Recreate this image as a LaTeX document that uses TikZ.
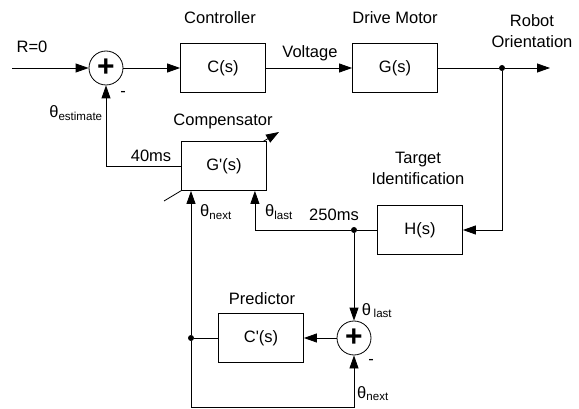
\documentclass[tikz,border=0pt]{standalone}
\usepackage{fontspec}
\setmainfont{Liberation Sans}
\usetikzlibrary{arrows.meta, positioning, backgrounds}

\newcommand{\thsub}[1]{θ\textsubscript{#1}}

\begin{document}
\begin{tikzpicture}[
    x=1pt, y=-1pt,
    font=\fontsize{16.5}{20}\selectfont,
    block/.style={rectangle, draw, fill=white, line width=0.8pt, minimum width=85pt, minimum height=49pt, inner sep=0pt},
    sumnode/.style={circle, draw, fill=white, line width=0.8pt, minimum size=34pt, inner sep=0pt, font=\fontsize{30}{30}\selectfont\bfseries},
    dot/.style={circle, fill, inner sep=0pt, minimum size=6pt},
    label/.style={anchor=base, inner sep=0pt},
    arrow/.style={-{Triangle[length=13pt, width=9pt]}, line width=0.8pt},
    wire/.style={line width=0.8pt}
]
    \useasboundingbox (0,0) rectangle (579,409);

    % forward path
    \coordinate (in) at (12,68);
    \node[sumnode] (sum1) at (106,68) {+};
    \node[block] (ctrl) at (223,68) {C(s)};
    \node[block] (motor) at (395,68) {G(s)};
    \node[dot] (out) at (502,68) {};
    \coordinate (end) at (550,68);

    % feedback blocks
    \node[block] (comp) at (224,166) {G\textquotesingle(s)};
    \node[block] (ident) at (420,230) {H(s)};
    \node[dot] (split) at (354,230) {};
    \node[block] (pred) at (261,338) {C\textquotesingle(s)};
    \node[sumnode] (sum2) at (354,338) {+};
    \node[dot] (tap) at (191,338) {};
    \coordinate (low) at (191,407);

    % labels
    \node[label] (rlabel) at (32,53) {R=0};
    \node[label] (ctrllabel) at (220,24) {Controller};
    \node[label] (voltlabel) at (310,58) {Voltage};
    \node[label] (motorlabel) at (395,24) {Drive Motor};
    \node[label, align=center] (outlabel) at (532,48) {Robot\\[1pt]Orientation};
    \node[label] (minus1) at (123,97) {-};
    \node[label] (estlabel) at (76,118) {\thsub{estimate}};
    \node[label] (complabel) at (223,126) {Compensator};
    \node[label] (delay1) at (151,162) {40ms};
    \node[label, align=center] (identlabel) at (418,185) {Target\\[1pt]Identification};
    \node[label] (delay2) at (334,221) {250ms};
    \node[label] (nextlabel) at (216,217) {\thsub{next}};
    \node[label] (lastlabel) at (279,217) {\thsub{last}};
    \node[label] (predlabel) at (262,304) {Predictor};
    \node[label] (lastlabel2) at (377,315) {θ\,\textsubscript{last}};
    \node[label] (minus2) at (371,364) {-};
    \node[label] (nextlabel2) at (373,398) {\thsub{next}};

    % connectors
    \draw[arrow] (in) -- (sum1);
    \draw[arrow] (sum1) -- (ctrl);
    \draw[arrow] (ctrl) -- (motor);
    \draw[wire] (motor) -- (out);
    \draw[arrow] (out) -- (end);
    \draw[arrow] (out) |- (ident);
    \draw[wire] (ident) -- (split);
    \draw[arrow] (split) -| ([xshift=-12pt]comp.south east);
    \draw[arrow] (split) -- (sum2);
    \draw[arrow] (sum2) -- (pred);
    \draw[wire] (pred) -- (tap);
    \draw[arrow] (tap) -- (tap |- comp.south);
    \draw[arrow] (tap) -- (low) -| (sum2);
    \draw[arrow] (comp.west) -| (sum1);

    % adjustable marker behind the compensator
    \begin{scope}[on background layer]
        \draw[arrow] (164,201) -- (279,132);
    \end{scope}
\end{tikzpicture}
\end{document}
